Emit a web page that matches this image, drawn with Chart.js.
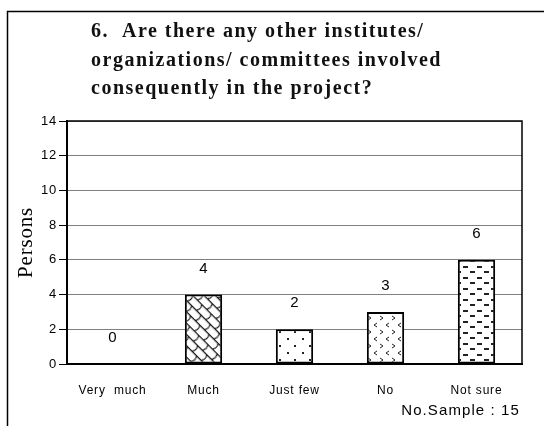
<!DOCTYPE html>
<html><head><meta charset="utf-8">
<script src="https://cdn.jsdelivr.net/npm/chart.js@4/dist/chart.umd.min.js"></script>
<style>html,body{margin:0;padding:0;background:#fff;}canvas{display:block}</style>
</head><body>
<canvas id="c" width="544" height="426"></canvas>
<script>
const categories = ['Very  much', 'Much', 'Just few', 'No', 'Not sure'];
const persons = [0, 4, 2, 3, 6];
const yMin = 0, yMax = 14, yStep = 2;
const titleLines = ['6.  Are there any other institutes/', 'organizations/ committees involved', 'consequently in the project?'];
const yAxisTitle = 'Persons';
const sampleNote = 'No.Sample : 15';

const mainCtx = document.getElementById('c').getContext('2d');
function makePattern(w, h, draw, rot) {
  const c = document.createElement('canvas');
  c.width = w; c.height = h;
  const g = c.getContext('2d');
  g.fillStyle = '#fff'; g.fillRect(0, 0, w, h);
  g.strokeStyle = '#222'; g.fillStyle = '#222'; g.lineWidth = 1;
  draw(g);
  const p = mainCtx.createPattern(c, 'repeat');
  if (rot && p.setTransform && window.DOMMatrix) p.setTransform(new DOMMatrix().rotateSelf(rot));
  return p;
}
const patScales = makePattern(13, 16, g => {
  g.lineWidth = 1.1; g.strokeStyle = '#111';
  g.beginPath();
  g.moveTo(0, 0.6); g.lineTo(13, 0.6);
  g.moveTo(0, 8.6); g.lineTo(13, 8.6);
  g.moveTo(0.6, 0.6); g.quadraticCurveTo(3.6, 4.6, 0.6, 8.6);
  g.moveTo(7.1, 8.6); g.quadraticCurveTo(10.1, 12.6, 7.1, 16.6);
  g.moveTo(7.1, -7.4); g.quadraticCurveTo(10.1, -3.4, 7.1, 0.6);
  g.stroke();
}, 45);
const patDots = makePattern(15, 14, g => {
  g.fillRect(2, 2, 2, 2);
  g.fillRect(9, 9, 2, 2);
});
const patChevrons = makePattern(12, 14, g => {
  g.beginPath();
  g.moveTo(5, 1); g.lineTo(2, 3); g.lineTo(5, 5);
  g.moveTo(8, 8); g.lineTo(11, 10); g.lineTo(8, 12);
  g.stroke();
});
const patDashes = makePattern(14, 11, g => {
  g.fillRect(1, 2, 5, 2);
  g.fillRect(8, 7, 5, 2);
});
const barFills = ['#fff', patScales, patDots, patChevrons, patDashes];

const decor = {
  id: 'decor',
  beforeDraw(chart) {
    const ctx = chart.ctx;
    ctx.save();
    ctx.fillStyle = '#fff';
    ctx.fillRect(0, 0, chart.width, chart.height);
    ctx.strokeStyle = '#000';
    ctx.lineWidth = 1.5;
    ctx.beginPath();
    ctx.moveTo(7.5, chart.height); ctx.lineTo(7.5, 11.5); ctx.lineTo(chart.width, 11.5);
    ctx.stroke();
    ctx.fillStyle = '#111';
    ctx.font = 'bold 20px "Liberation Serif", "Times New Roman", serif';
    ctx.textAlign = 'left'; ctx.textBaseline = 'alphabetic';
    if ('letterSpacing' in ctx) ctx.letterSpacing = '1.5px';
    titleLines.forEach((t, i) => ctx.fillText(t, 91, 37 + i * 28.5));
    ctx.restore();
    if ('letterSpacing' in ctx) ctx.letterSpacing = '0.8px';
  },
  afterDatasetsDraw(chart) {
    const ctx = chart.ctx, a = chart.chartArea;
    ctx.save();
    if ('letterSpacing' in ctx) ctx.letterSpacing = '0px';
    ctx.strokeStyle = '#000'; ctx.lineWidth = 1.5;
    ctx.beginPath();
    ctx.moveTo(a.left, a.top); ctx.lineTo(a.right, a.top); ctx.lineTo(a.right, a.bottom);
    ctx.stroke();
    ctx.fillStyle = '#000';
    ctx.font = '15px "Liberation Sans", Arial, sans-serif';
    ctx.textAlign = 'center'; ctx.textBaseline = 'middle';
    chart.getDatasetMeta(0).data.forEach((bar, i) => {
      ctx.fillText(String(persons[i]), bar.x, bar.y - 26);
    });
    ctx.textAlign = 'right';
    if ('letterSpacing' in ctx) ctx.letterSpacing = '1.1px';
    ctx.fillText(sampleNote, 520, 411);
    ctx.restore();
  },
  afterDraw(chart) {
    if ('letterSpacing' in chart.ctx) chart.ctx.letterSpacing = '0px';
  }
};

new Chart(mainCtx, {
  type: 'bar',
  data: {
    labels: categories,
    datasets: [{
      data: persons,
      backgroundColor: barFills,
      borderColor: '#000',
      borderWidth: 2,
      borderSkipped: false,
      barPercentage: 0.41,
      categoryPercentage: 1
    }]
  },
  options: {
    responsive: false,
    devicePixelRatio: 1,
    animation: false,
    layout: { padding: { top: 121, right: 22, left: 0, bottom: 0 } },
    plugins: { legend: { display: false }, tooltip: { enabled: false }, title: { display: false } },
    scales: {
      x: {
        grid: { display: false },
        border: { display: true, color: '#000', width: 2 },
        ticks: { color: '#000', padding: 11, maxRotation: 0, autoSkip: false,
                 font: { family: '"Liberation Sans", Arial, sans-serif', size: 12 } },
        afterFit(s) { s.height = 62; }
      },
      y: {
        min: yMin, max: yMax,
        ticks: { stepSize: yStep, color: '#000', padding: 2,
                 font: { family: '"Liberation Sans", Arial, sans-serif', size: 13 } },
        grid: { color: '#808080', lineWidth: 1, tickColor: '#000', tickLength: 8 },
        border: { display: true, color: '#000', width: 2 },
        title: { display: true, text: yAxisTitle, color: '#000', padding: { top: 14, bottom: 0 },
                 font: { family: '"Liberation Serif", "Times New Roman", serif', size: 21 } },
        afterFit(s) { s.width = 67; }
      }
    }
  },
  plugins: [decor]
});
</script>
</body></html>
